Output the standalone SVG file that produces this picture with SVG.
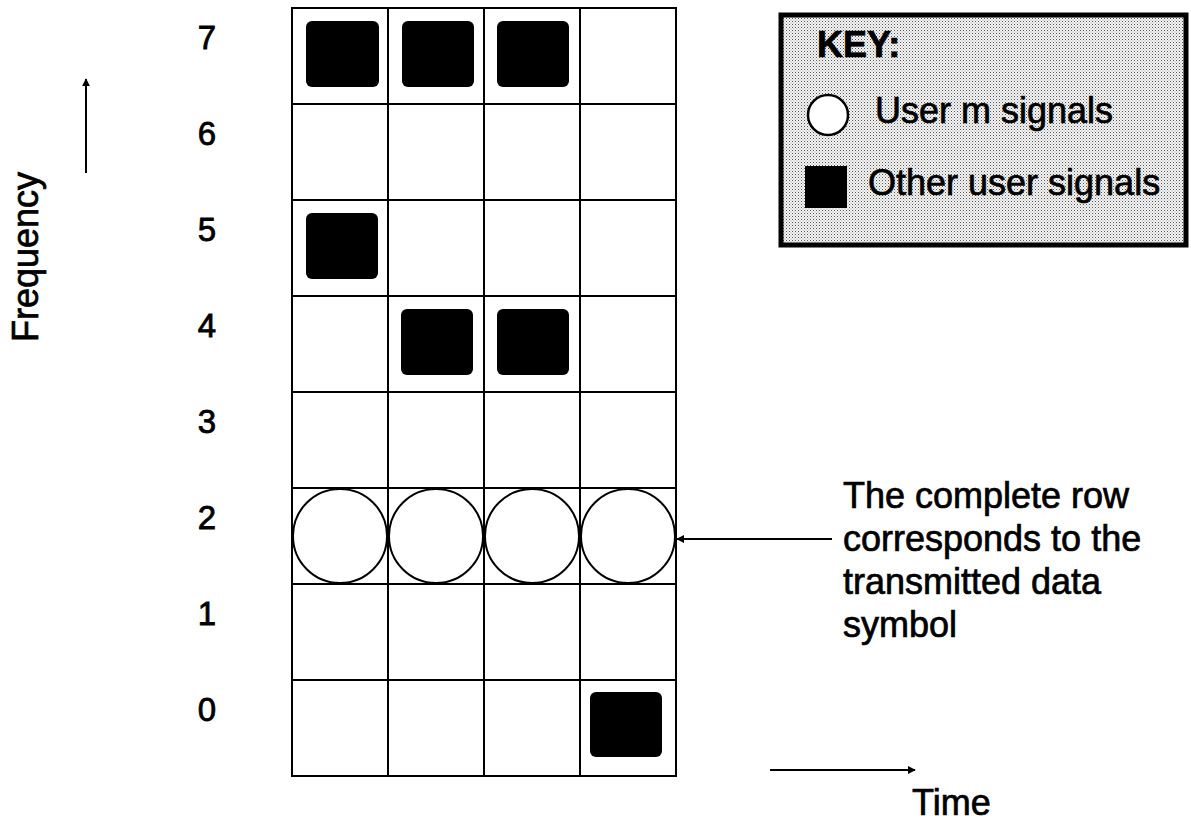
<svg xmlns="http://www.w3.org/2000/svg" width="1191" height="822" viewBox="0 0 1191 822">
<style>
.lbl{font-family:"Liberation Sans",Arial,sans-serif;font-size:36px;fill:#000;stroke:#000;stroke-width:0.7}
.num{font-family:"Liberation Sans",Arial,sans-serif;font-size:33px;fill:#000;stroke:#000;stroke-width:0.8;text-anchor:middle}
.grid{stroke:#000;stroke-width:2;fill:none}
.blk{fill:#000}
.sig{fill:#fff;stroke:#000;stroke-width:2}
.conn{stroke:#000;stroke-width:2;fill:none}
</style>
<defs>
<pattern id="stipple" width="3" height="3" patternUnits="userSpaceOnUse">
<rect width="3" height="3" fill="#f4f4f4"/>
<rect x="0" y="0" width="1" height="1" fill="#555"/>
<rect x="1.5" y="1.5" width="1" height="1" fill="#999"/>
</pattern>
<marker id="ah" viewBox="0 0 10 10" refX="9" refY="5" markerWidth="4" markerHeight="4" orient="auto-start-reverse">
<path d="M0,0 L10,5 L0,10 z" fill="#000"/>
</marker>
</defs>
<rect width="1191" height="822" fill="#fff"/>

<g id="axis-frequency">
<text class="lbl" transform="translate(38,257) rotate(-90)" text-anchor="middle">Frequency</text>
</g>
<g id="axis-time">
<text class="lbl" x="912" y="815">Time</text>
</g>

<g id="row-labels">
<text class="num" x="207" y="49">7</text>
<text class="num" x="207" y="145">6</text>
<text class="num" x="207" y="241">5</text>
<text class="num" x="207" y="337">4</text>
<text class="num" x="207" y="433">3</text>
<text class="num" x="207" y="529">2</text>
<text class="num" x="207" y="625">1</text>
<text class="num" x="207" y="721">0</text>
</g>

<g id="grid">
<rect class="grid" x="292" y="8" width="384" height="768"/>
<path class="grid" d="M388,8V776M484,8V776M580,8V776M292,104H676M292,200H676M292,296H676M292,392H676M292,488H676M292,584H676M292,680H676"/>
</g>

<g id="other-signals">
<rect class="blk" x="306" y="21" width="73" height="66" rx="6"/>
<rect class="blk" x="402" y="21" width="72" height="66" rx="6"/>
<rect class="blk" x="497" y="21" width="72" height="66" rx="6"/>
<rect class="blk" x="306" y="213" width="72" height="66" rx="6"/>
<rect class="blk" x="401" y="309" width="72" height="66" rx="6"/>
<rect class="blk" x="497" y="309" width="72" height="66" rx="6"/>
<rect class="blk" x="590" y="692" width="72" height="65" rx="6"/>
</g>

<g id="user-m-signals">
<circle class="sig" cx="340" cy="536" r="47"/>
<circle class="sig" cx="436" cy="536" r="47"/>
<circle class="sig" cx="532" cy="536" r="47"/>
<circle class="sig" cx="628" cy="536" r="47"/>
</g>

<g id="key">
<rect x="781" y="15" width="405" height="230" fill="url(#stipple)" stroke="#000" stroke-width="5"/>
<text class="lbl" x="817" y="57" font-weight="bold" stroke-width="0.3">KEY:</text>
<circle cx="828" cy="115" r="20" fill="#fff" stroke="#000" stroke-width="2.5"/>
<text class="lbl" x="875" y="123">User m signals</text>
<rect x="805" y="166" width="42" height="42" fill="#000"/>
<text class="lbl" x="868" y="195">Other user signals</text>
</g>

<g id="annotation">
<text class="lbl" x="843" y="508">The complete row</text>
<text class="lbl" x="843" y="551">corresponds to the</text>
<text class="lbl" x="843" y="594">transmitted data</text>
<text class="lbl" x="843" y="637">symbol</text>
</g>

<g id="connectors">
<line class="conn" x1="86" y1="173" x2="86" y2="79" marker-end="url(#ah)"/>
<line class="conn" x1="770" y1="770" x2="915" y2="770" marker-end="url(#ah)"/>
<line class="conn" x1="832" y1="539" x2="677" y2="539" marker-end="url(#ah)"/>
</g>
</svg>
